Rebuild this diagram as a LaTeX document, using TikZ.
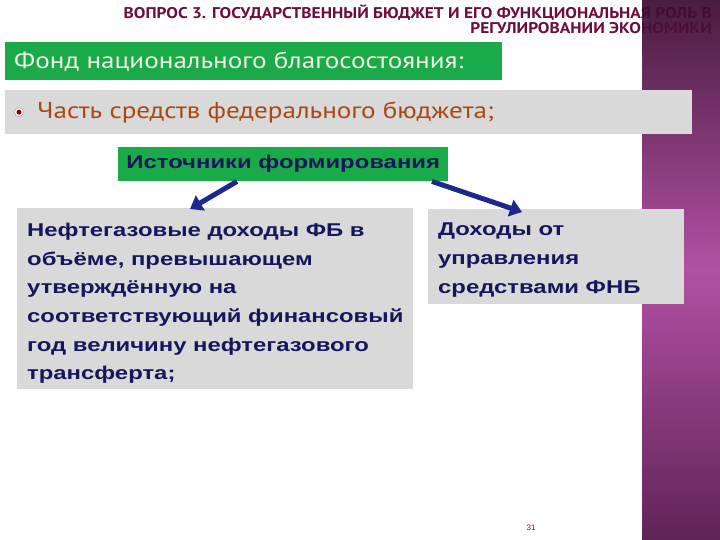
\documentclass[tikz,border=0pt]{standalone}
\usepackage{fontspec}
\setmainfont{Liberation Sans}
\newfontfamily\bodyfont[FakeStretch=1.29]{Liberation Sans}
\newfontfamily\headfont[FakeStretch=1.18]{PT Sans}
\newfontfamily\titlefont[FakeStretch=1.12]{PT Sans}
\usetikzlibrary{arrows.meta}
\definecolor{slidegreen}{RGB}{26,170,74}
\definecolor{slidegray}{RGB}{217,217,217}
\definecolor{navytext}{RGB}{22,22,92}
\definecolor{arrowblue}{RGB}{30,40,140}
\definecolor{maroon}{RGB}{110,12,60}
\definecolor{rusty}{RGB}{170,72,20}

\tikzset{
  graybox/.style={fill=slidegray, anchor=north west, inner sep=0pt},
  greenbox/.style={fill=slidegreen, anchor=north west, inner sep=0pt},
  bodytext/.style={anchor=north west, inner sep=0pt, align=left, text=navytext,
                   font=\bodyfont\bfseries\fontsize{18.5}{28.6}\selectfont},
  navyarrow/.style={draw=arrowblue, line width=5pt, -{Triangle[length=12pt, width=17pt]}}
}

\begin{document}
\begin{tikzpicture}[x=1pt, y=-1pt]
\useasboundingbox (0,0) rectangle (720,540);
\fill[white] (0,0) rectangle (720,540);

% title
\node[anchor=north east, align=right, text=maroon, inner sep=0pt,
      font=\titlefont\bfseries\fontsize{15.5}{15}\selectfont] (title) at (712,5)
  {ВОПРОС 3. ГОСУДАРСТВЕННЫЙ БЮДЖЕТ И ЕГО ФУНКЦИОНАЛЬНАЯ РОЛЬ В\\РЕГУЛИРОВАНИИ ЭКОНОМИКИ};

% purple strip on the right
\shade[top color={rgb,255:red,58;green,10;blue,48}, bottom color={rgb,255:red,82;green,18;blue,72},
       middle color={rgb,255:red,172;green,66;blue,156}, opacity=0.92] (642,0) rectangle (720,540);

% heading
\node[greenbox, minimum width=497pt, minimum height=38pt] (fond) at (5,42) {};
\node[anchor=west, inner sep=0pt, text={rgb,255:red,240;green,242;blue,225}, font=\headfont\fontsize{23}{26}\selectfont]
  (fondtext) at ([xshift=9pt]fond.west) {Фонд национального благосостояния:};

% part of the budget
\node[graybox, minimum width=687pt, minimum height=44pt] (part) at (5,90) {};
\draw[maroon!50, fill=white] ([xshift=14pt]part.west) circle (4.5pt);
\fill[red!55!black] ([xshift=14pt]part.west) circle (2.5pt);
\node[anchor=west, inner sep=0pt, text=rusty, font=\headfont\fontsize{23}{26}\selectfont]
  (parttext) at ([xshift=32pt]part.west) {Часть средств федерального бюджета;};

% sources
\node[greenbox, minimum width=330pt, minimum height=34pt, text=navytext,
      font=\bodyfont\bfseries\fontsize{18.5}{22}\selectfont] (src) at (118,147) {Источники формирования};

\node[graybox, minimum width=396pt, minimum height=181pt] (oil) at (17,208) {};
\node[bodytext] (oiltext) at ([xshift=10pt, yshift=-15pt]oil.north west)
  {Нефтегазовые доходы ФБ в\\объёме, превышающем\\утверждённую на\\соответствующий финансовый\\год величину нефтегазового\\трансферта;};

\node[graybox, minimum width=256pt, minimum height=95pt] (mgmt) at (428,209) {};
\node[bodytext] (mgmttext) at ([xshift=10pt, yshift=-14pt]mgmt.north west)
  {Доходы от\\управления\\средствами ФНБ};

\draw[navyarrow] ([xshift=119pt]src.south west) -- ([xshift=173pt, yshift=-1pt]oil.north west);
\draw[navyarrow] ([xshift=314pt]src.south west) -- ([xshift=94pt, yshift=-3pt]mgmt.north west);

\node[text=maroon, font=\fontsize{8}{9}\selectfont] (page) at (531,528) {31};
\end{tikzpicture}
\end{document}
